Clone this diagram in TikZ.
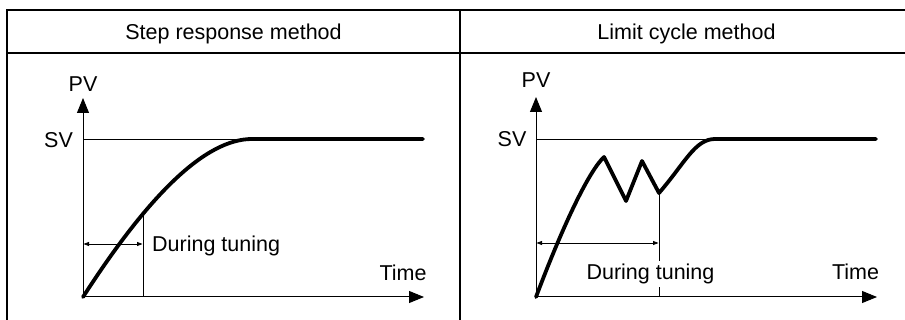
\documentclass[tikz,border=0pt]{standalone}
\usepackage{fontspec}
\setmainfont{Liberation Sans}
\usetikzlibrary{arrows.meta}

\begin{document}
\begin{tikzpicture}[x=1pt, y=-1pt,
  frame/.style={line width=1.6pt},
  axis/.style={line width=1pt,
    -{Triangle[length=15pt,width=12pt]}},
  svline/.style={line width=0.8pt},
  pvcurve/.style={line width=3.8pt, line cap=round,
    line join=round},
  span/.style={line width=0.8pt,
    {Triangle[length=5.5pt,width=4pt]}-{Triangle[length=5.5pt,width=4pt]}},
  lbl/.style={font=\fontsize{21.5}{26}\selectfont, inner sep=1pt}]

\useasboundingbox (0,0) rectangle (905,320);

% Table frame (runs past the page on the right and bottom)
\draw[frame] (7,330) -- (7,10) -- (915,10);
\draw[frame] (7,53) -- (915,53);
\draw[frame] (460,10) -- (460,330);

\node[lbl, anchor=base] (head1) at (233.5,40) {Step response method};
\node[lbl, anchor=base] (head2) at (686.5,40) {Limit cycle method};

% Left panel: step response
\coordinate (o1) at (83,297);
\coordinate (y1) at (83,98);
\coordinate (x1) at (424,297);
\coordinate (s1) at (252,139);
\coordinate (e1) at (423,139);
\coordinate (b1) at (143,297);
\coordinate (t1) at (143,216);

\draw[svline] (83,139) -- (s1);
\draw[svline] (b1) -- (t1);
\draw[axis] (o1) -- (y1);
\draw[axis] (o1) -- (x1);
\draw[pvcurve] (o1) .. controls (148,196) and (205,139) .. (s1) -- (e1);
\draw[span] (83.5,244) -- (142.5,244);

\node[lbl, anchor=base] (pv1) at (83,92) {PV};
\node[lbl, anchor=base] (sv1) at (58.5,148) {SV};
\node[lbl, anchor=base] (time1) at (403,281) {Time};
\node[lbl, anchor=base west] (tune1) at (151,252) {During tuning};

% Right panel: limit cycle
\coordinate (o2) at (536,297);
\coordinate (y2) at (536,97);
\coordinate (x2) at (877,297);
\coordinate (p1) at (604,157);
\coordinate (q1) at (626,201);
\coordinate (p2) at (642,161);
\coordinate (q2) at (659,193);
\coordinate (s2) at (715,139);
\coordinate (e2) at (876,139);
\coordinate (b2) at (659,297);

\draw[svline] (536,139) -- (s2);
\draw[svline] (b2) -- (q2);
\draw[axis] (o2) -- (y2);
\draw[axis] (o2) -- (x2);
\draw[pvcurve] (o2) .. controls (565,220) and (590,170) .. (p1)
  -- (q1) -- (p2) -- (q2)
  .. controls (685,163) and (695,139) .. (s2) -- (e2);
\draw[span] (536.5,243) -- (658.5,243);

\node[lbl, anchor=base] (pv2) at (536,88) {PV};
\node[lbl, anchor=base] (sv2) at (512,147) {SV};
\node[lbl, anchor=base] (time2) at (855.5,280) {Time};
\node[lbl, anchor=base, fill=white, inner sep=3pt] (tune2) at (650.5,280) {During tuning};

\end{tikzpicture}
\end{document}
